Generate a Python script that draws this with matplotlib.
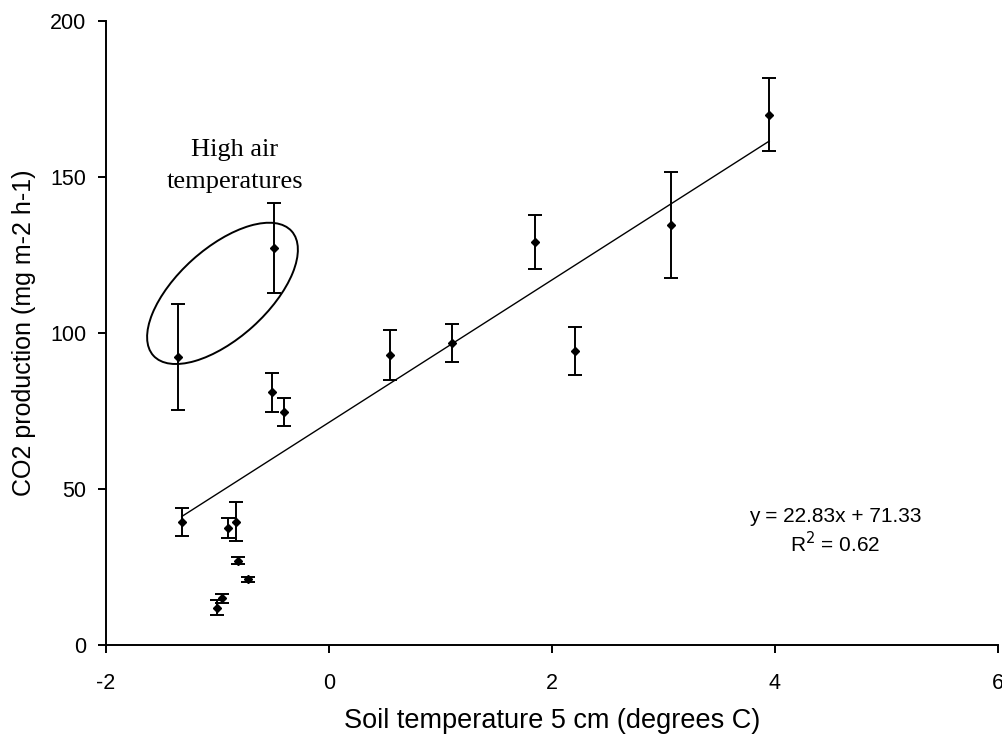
import numpy as np
import matplotlib
matplotlib.use("Agg")
import matplotlib.pyplot as plt
import matplotlib.transforms as mtransforms
from matplotlib.patches import Ellipse

# soil temperature (deg C), CO2 flux and its error
soil_t = [-1.32, -0.91, -0.83, -0.82, -0.73, -0.96, -1.00, -0.51, -0.40,
          -1.35, -0.49, 3.95, 3.07, 1.85, 1.10, 2.21, 0.55]
co2 = [39.5, 37.5, 39.5, 27.0, 21.0, 15.0, 12.0, 81.0, 74.7,
       92.3, 127.2, 170.0, 134.6, 129.2, 96.8, 94.2, 93.0]
co2_err = [4.5, 3.2, 6.3, 1.2, 0.8, 1.5, 2.5, 6.3, 4.6,
           17.0, 14.5, 11.8, 17.0, 8.7, 6.1, 7.7, 8.0]

slope = 22.83
intercept = 71.33
r2 = 0.62
trend_range = [-1.32, 3.95]

xticks = [-2, 0, 2, 4, 6]
yticks = [0, 50, 100, 150, 200]

plt.rcParams['font.family'] = ['Liberation Sans', 'DejaVu Sans']
plt.rcParams['axes.unicode_minus'] = False

fig = plt.figure(figsize=(10.03, 7.40), dpi=100)
ax = fig.add_axes([0.1057, 0.1284, 0.889, 0.8432])

ax.errorbar(soil_t, co2, yerr=co2_err, fmt='D', color='black',
            markersize=4.5, elinewidth=1.4, capsize=4.8, capthick=1.4)

tx = np.array(trend_range)
ax.plot(tx, slope * tx + intercept, color='black', linewidth=1.0)

ax.set_xlim(-2, 6)
ax.set_ylim(0, 200)
ax.set_xticks(xticks)
ax.set_yticks(yticks)
ax.tick_params(direction='out', length=6, width=1.4, labelsize=15.5)
ax.tick_params(axis='x', pad=14)
ax.tick_params(axis='y', pad=8)
for s in ['top', 'right']:
    ax.spines[s].set_visible(False)
for s in ['left', 'bottom']:
    ax.spines[s].set_linewidth(1.4)

ax.set_xlabel('Soil temperature 5 cm (degrees C)', fontsize=19.5, labelpad=10)
ax.set_ylabel('CO2 production (mg m-2 h-1)', fontsize=18, labelpad=10)

ax.text(4.54, 41.3, 'y = %.2fx + %.2f' % (slope, intercept), fontsize=15,
        ha='center', va='center')
ax.text(4.54, 32.4, 'R$^2$ = %.2f' % r2, fontsize=15, ha='center', va='center')

# ellipse drawn in pixel units around the high air temperature points
trans = fig.dpi_scale_trans + mtransforms.ScaledTranslation(-0.955, 112.7, ax.transData)
ax.add_patch(Ellipse((0, 0), 1.86, 0.90, angle=42, transform=trans,
                     fill=False, edgecolor='black', linewidth=1.4))
ax.text(-0.843, 158.7, 'High air', fontsize=19,
        family='Liberation Serif', ha='center', va='center')
ax.text(-0.843, 148.4, 'temperatures', fontsize=19,
        family='Liberation Serif', ha='center', va='center')

fig.savefig('out.png', dpi=100)
